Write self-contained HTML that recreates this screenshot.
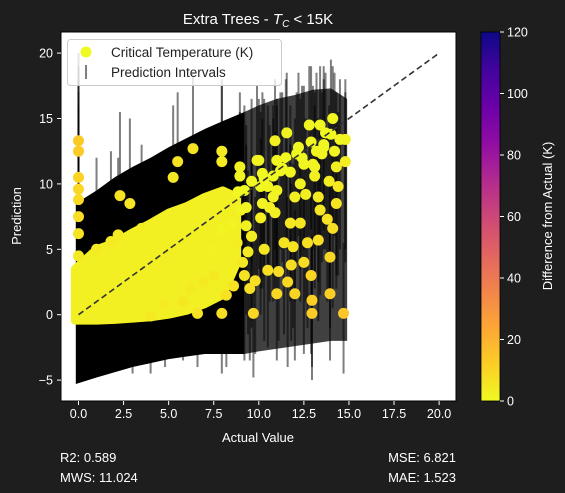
<!DOCTYPE html>
<html><head><meta charset="utf-8">
<style>
html,body{margin:0;padding:0;background:#1e1e1e;}
svg{display:block;font-family:"Liberation Sans","DejaVu Sans",sans-serif;}
</style></head>
<body>
<svg id="chart" width="565" height="493" viewBox="0 0 565 493" xmlns="http://www.w3.org/2000/svg">
  <defs>
    <linearGradient id="plasma" x1="0" y1="0" x2="0" y2="1">
      <stop offset="0" stop-color="#0d0887"/><stop offset="0.1" stop-color="#41049d"/>
      <stop offset="0.2" stop-color="#6a00a8"/><stop offset="0.3" stop-color="#8f0da4"/>
      <stop offset="0.4" stop-color="#b12a90"/><stop offset="0.5" stop-color="#cc4778"/>
      <stop offset="0.6" stop-color="#e16462"/><stop offset="0.7" stop-color="#f2844b"/>
      <stop offset="0.8" stop-color="#fca636"/><stop offset="0.9" stop-color="#fcce25"/>
      <stop offset="1" stop-color="#f0f921"/>
    </linearGradient>
    <clipPath id="plotclip"><rect x="61" y="32" width="395" height="369"/></clipPath>
  </defs>
  <rect x="0" y="0" width="565" height="493" fill="#1e1e1e"/>
  <text x="258" y="24" fill="#fff" font-size="15" text-anchor="middle">Extra Trees - <tspan font-style="italic">T</tspan><tspan font-style="italic" font-size="10" dy="3">C</tspan><tspan dy="-3"> &lt; 15K</tspan></text>
  <rect x="61" y="32" width="395" height="369" fill="#fff"/>
  <g id="marks" clip-path="url(#plotclip)"></g>
  <rect x="61" y="32" width="395" height="369" fill="none" stroke="#000" stroke-width="1"/>
  <g id="axes"></g>
  <g>
    <rect x="67.5" y="39.5" width="214" height="46" rx="3" fill="#fff" fill-opacity="0.8" stroke="#ccc"/>
    <circle cx="86" cy="52" r="5.5" fill="#f0f921"/>
    <text x="111" y="57" font-size="13.5" fill="#222">Critical Temperature (K)</text>
    <rect x="85" y="65" width="2" height="14" fill="#000" fill-opacity="0.5"/>
    <text x="111" y="77" font-size="13.5" fill="#222">Prediction Intervals</text>
  </g>
  <rect x="481" y="32" width="19" height="369" fill="url(#plasma)"/>
  <rect x="481" y="32" width="19" height="369" fill="none" stroke="#000" stroke-width="0.8"/>
  <g id="cbticks"></g>
  <text transform="translate(552,216) rotate(-90)" fill="#fff" font-size="13" text-anchor="middle">Difference from Actual (K)</text>
  <text x="258" y="442" fill="#fff" font-size="13" text-anchor="middle">Actual Value</text>
  <text transform="translate(21,216) rotate(-90)" fill="#fff" font-size="13" text-anchor="middle">Prediction</text>
  <text x="60" y="462" fill="#fff" font-size="13">R2: 0.589</text>
  <text x="60" y="482" fill="#fff" font-size="13">MWS: 11.024</text>
  <text x="456" y="462" fill="#fff" font-size="13" text-anchor="end">MSE: 6.821</text>
  <text x="456" y="482" fill="#fff" font-size="13" text-anchor="end">MAE: 1.523</text>
</svg>
<script>
const xTicks = [0, 2.5, 5, 7.5, 10, 12.5, 15, 17.5, 20];
const xTickLabels = ["0.0","2.5","5.0","7.5","10.0","12.5","15.0","17.5","20.0"];
const yTicks = [-5, 0, 5, 10, 15, 20];
const yTickLabels = ["−5","0","5","10","15","20"];
const cbTicks = [0, 20, 40, 60, 80, 100, 120];
// dense interval mass (many overlapping intervals)
const bandX  = [-0.15, 1, 2, 3, 4, 5, 6, 7, 8, 9.2];
const bandLo = [-5.3, -4.8, -4.4, -4.0, -3.7, -3.4, -3.2, -3.0, -3.0, -3.0];
const bandHi = [8.5, 9.5, 10.5, 11.3, 12.0, 12.8, 13.5, 14.2, 14.8, 15.5];
const band2X  = [9.2, 10, 11, 12, 13, 14, 14.9];
const band2Lo = [-3.0, -2.8, -2.6, -2.4, -2.2, -2.0, -2.0];
const band2Hi = [15.5, 16.0, 16.5, 16.8, 17.2, 17.3, 16.5];
// dense cloud of predictions
const cloudX  = [-0.2, 1, 2, 3, 4, 5, 6, 7, 8, 8.8];
const cloudLo = [-0.45, -0.45, -0.4, -0.3, -0.2, 0.0, 0.3, 0.8, 1.5, 4.0];
const cloudHi = [3.5, 5.0, 5.5, 6.3, 7.0, 7.8, 8.3, 9.0, 9.5, 9.0];
// individual points: actual, predicted, interval low, interval high
const actual = [0,0,0,0,0,0,0,0, 2.3,2.85,5.5,5.25,6.35,7.95,7.95,8.95,9.9, 6.6,7.95,2.2,
 14.7,13.95,12.95,12.95,9.7,11.0,12.0,9.8,10.5,11.8,11.1,13.95,12.7,13.3,11.75,12.3,14.1,10.9,10.1,9.3,13.8,13.4,14.3,13.3,14.4,14.8,14.8,14.1,12.8,13.4,11.55,10.9,13.5,12.1,11.0,10.0,11.75,10.8,10.1,8.95,8.85,13.1,13.9,14.3,12.0,10.8,12.6,13.1,14.5,13.7,
 6.9,7.5,8.2,8.6,9.1,9.5,7.3,8.0,8.5,9.0,1.0,1.8,3.5,4.8,5.8,6.2,3.0,4.0,8.8,9.4,10.3,11.3,12.4,13.6,10.6,11.9,12.9,9.6,
 9.2,9.6,10.2,10.5,11.2,11.5,12.2,12.5,12.9,13.2,13.6,14.0,9.3,10.2,11.0,12.3,13.0,14.2,9.6,10.3,11.4,12.5,9.2,11.6];
const predicted = [13.3,12.5,10.5,9.6,8.8,7.5,6.2,4.5, 9.1,8.5,11.7,10.5,12.7,12.5,11.7,11.3,11.8, 0.1,0.1,6.1,
 0.1,1.6,0.1,1.1,0.1,1.6,1.6,2.6,3.4,3.8,3.3,4.4,5.5,5.7,7.0,7.0,6.6,7.8,7.4,6.8,7.3,8.0,8.5,9.0,9.8,11.7,13.4,15.0,14.5,14.5,13.9,13.3,12.3,12.3,11.8,11.8,10.9,10.6,9.8,10.6,9.4,10.6,10.2,11.3,9.0,9.0,9.2,11.3,13.4,13.9,
 2.5,3.0,1.5,2.2,4.0,2.0,5.0,6.5,7.0,8.0,5.0,5.6,6.6,0.8,1.0,2.0,0.2,-0.1,5.5,4.8,10.4,11.2,12.0,12.8,8.2,5.2,3.0,6.0,
 9.5,10.2,10.8,9.8,11.0,12.0,12.8,11.5,13.2,12.5,13.0,13.8,8.2,8.5,9.5,10.0,11.5,12.5,6.0,5.0,5.5,4.0,3.0,2.5];
const lower = [0.5,-0.5,-2,-3,-4,-5,-5,-5, 1,1,3.5,3,4.5,4,3.5,3,3, -4,-4.5,-3,
 -4.5,-3.5,-5,-4,-4.8,-3.5,-3.5,-3,-2.5,-2,-2,-1,-1,-0.5,1,1,0.5,1.5,0,0,1,1.5,2,2.5,3,4,5,7,6,6,5,5,4,4,3.5,3.5,3,3,2,2,1.5,2,2,3,1,1,1,3,5,5,
 -3,-2.5,-4,-3,-2,-3.5,-1,0,0.5,1.5,-2,-1.5,-1,-4,-3.5,-3,-4.5,-4.5,-1,-1.5,3,4,4.5,5,1,-1,-3,-0.5,
 3,4,4.5,3.5,5,5.5,6,5,6.5,6,6.5,7,2,2,3,3.5,5,6,-1,-2,-1.5,-3,-3.5,-4];
const upper = [20,19,18,17,16,15,14,13, 15.5,15,17,16,18.5,18,17.5,17,17.5, 6.5,6,12,
 5.5,7.5,5,6,5.5,8,8,9,9.5,10,9.5,10.5,11.5,12,13,13,12.5,14,13.5,13,13.5,14,14.5,15,15.5,17,18,19,19,19,18.5,18,17,17,16.5,16.5,16,16,15.5,15.5,15,16,16,17,15,15,15,17,18,18.5,
 8.5,9,7.5,8,10,8,11,12.5,13,14,12,12.5,13,6,6.5,7.5,5.5,5,12,11,16.5,17,17.5,18,14.5,11.5,9,12,
 16,16.5,17,16,17,18,18.5,17.5,19,18.5,19,19.5,14.5,15,16,16.5,17.5,18.5,12,11,12,10.5,9.5,9];

const NS = "http://www.w3.org/2000/svg";
function X(v){ return 78.5 + v * 18.03; }
function Y(v){ return 314.7 - v * 13.08; }
function CB(v){ return 401 - v / 120 * 369; }
function mk(tag, attrs, parent){ const e=document.createElementNS(NS,tag); for(const k in attrs) e.setAttribute(k,attrs[k]); parent.appendChild(e); return e; }
function lerp(a,b,t){ return Math.round(a+(b-a)*t); }
function plasmaR(d){
  const stops=[[0,[240,249,33]],[12,[252,206,37]],[24,[252,166,54]],[36,[242,132,75]],[48,[225,100,98]],[60,[204,71,120]],[120,[13,8,135]]];
  for(let i=0;i<stops.length-1;i++){ const [a,ca]=stops[i],[b,cb]=stops[i+1]; if(d<=b){ const t=(d-a)/(b-a); return `rgb(${lerp(ca[0],cb[0],t)},${lerp(ca[1],cb[1],t)},${lerp(ca[2],cb[2],t)})`; } }
  return "rgb(13,8,135)";
}
function areaPath(xs, lo, hi){
  let d = "M" + xs.map((x,i)=>X(x)+","+Y(hi[i])).join(" L");
  for(let i=xs.length-1;i>=0;i--) d += " L" + X(xs[i]) + "," + Y(lo[i]);
  return d + " Z";
}
const marks = document.getElementById("marks");
const b1 = mk("path",{d:areaPath(bandX,bandLo,bandHi),fill:"#000"},marks);


const b2 = mk("path",{d:areaPath(band2X,band2Lo,band2Hi),fill:"#000","fill-opacity":"0.75"},marks);


for(let i=0;i<actual.length;i++){
  const r = mk("rect",{x:X(actual[i])-1,y:Y(upper[i]),width:2,height:Y(lower[i])-Y(upper[i]),fill:"#000","fill-opacity":"0.5"},marks);
  
  
}
const cl = mk("path",{d:areaPath(cloudX,cloudLo,cloudHi),fill:"#f2f022",stroke:"#f2f022","stroke-width":"8","stroke-linejoin":"round"},marks);


for(let i=0;i<actual.length;i++){
  const c = mk("circle",{cx:X(actual[i]),cy:Y(predicted[i]),r:5.5,fill:plasmaR(Math.abs(predicted[i]-actual[i]))},marks);
  
  
}
const dl = mk("line",{x1:X(0),y1:Y(0),x2:X(20),y2:Y(20),stroke:"#333","stroke-width":"1.6","stroke-dasharray":"6,3.5"},marks);



const axes = document.getElementById("axes");
xTicks.forEach((v,i)=>{
  const t = mk("line",{x1:X(v),y1:401,x2:X(v),y2:405,stroke:"#fff"},axes);
  
  
  const l = mk("text",{x:X(v),y:418,fill:"#fff","font-size":"12.5","text-anchor":"middle"},axes);
  l.textContent = xTickLabels[i];
  
  
});
yTicks.forEach((v,i)=>{
  const t = mk("line",{x1:57,y1:Y(v),x2:61,y2:Y(v),stroke:"#fff"},axes);
  
  
  const l = mk("text",{x:53,y:Y(v)+4.5,fill:"#fff","font-size":"12.5","text-anchor":"end"},axes);
  l.textContent = yTickLabels[i];
  
  
});
const cbt = document.getElementById("cbticks");
cbTicks.forEach(v=>{
  const t = mk("line",{x1:500,y1:CB(v),x2:504,y2:CB(v),stroke:"#fff"},cbt);
  
  
  const l = mk("text",{x:507,y:CB(v)+4.5,fill:"#fff","font-size":"12.5"},cbt);
  l.textContent = String(v);
  
  
});
</script>
</body></html>
